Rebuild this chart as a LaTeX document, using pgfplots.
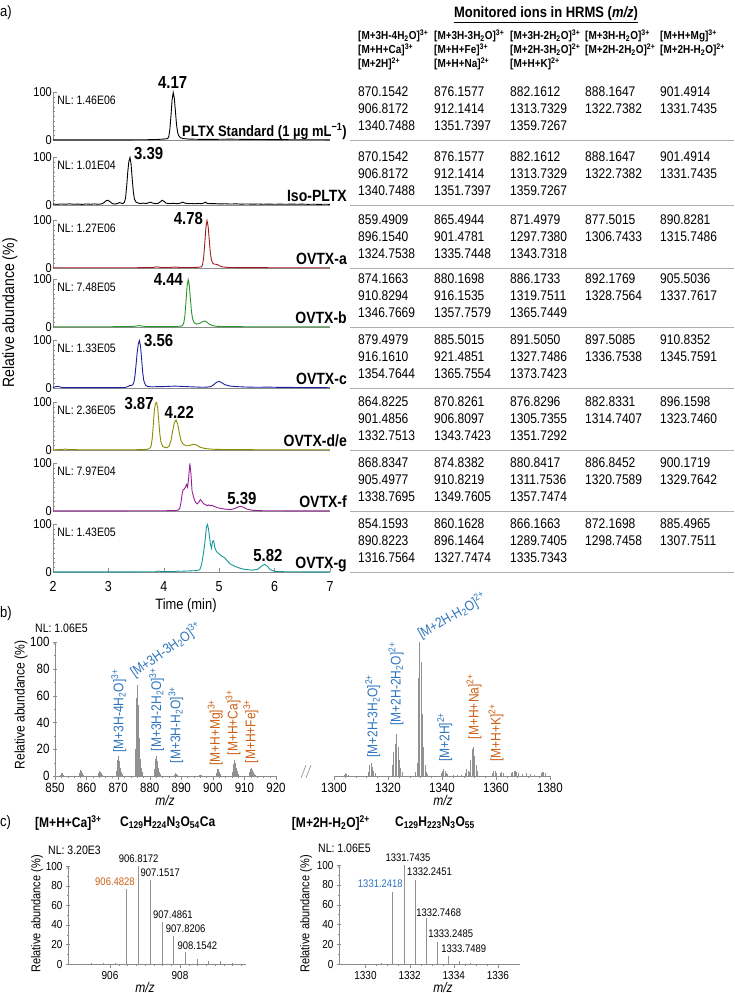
\documentclass[border=0pt]{standalone}
\usepackage{pgfplots}
\pgfplotsset{compat=1.18}
\usepackage{fontspec}
\setmainfont{Liberation Sans}[FakeStretch=0.86]
\definecolor{cdred}{RGB}{160,28,32}
\definecolor{cgreen}{RGB}{40,150,40}
\definecolor{cnavy}{RGB}{30,30,160}
\definecolor{colive}{RGB}{140,140,0}
\definecolor{cpurple}{RGB}{150,30,150}
\definecolor{cteal}{RGB}{20,150,150}
\definecolor{cblue}{RGB}{46,117,190}
\definecolor{corange}{RGB}{205,95,20}
\definecolor{cax}{RGB}{140,140,140}
\definecolor{cstick}{RGB}{145,145,145}
\newcommand\F[1]{\fontsize{#1}{#1}\selectfont}
\pgfplotsset{
  every axis/.append style={/pgf/number format/assume math mode=true,/pgf/number format/1000 sep={}},
  chrom/.style={anchor=south west, scale only axis, width=277pt, height=47.5pt,
    xmin=2, xmax=7, ymin=0, ymax=100,
    axis x line=bottom, axis y line=left, axis line style={-, draw=cax}, tick style={cax},
    ytick={0,100}, minor y tick num=9, xtick=\empty, tick align=inside,
    major tick length=4pt, minor tick length=2pt, clip=false,
    yticklabel style={font=\F{12.8}, inner sep=1pt}},
  spec/.style={anchor=south west, scale only axis, ymin=0, ymax=100,
    axis x line=bottom, axis line style={-, draw=cax}, tick style={cax},
    tick align=outside, major tick length=4pt, minor tick length=2pt, clip=false},
}
\newcommand\NL[1]{\node[anchor=west,inner sep=0pt,font=\F{12.2}] at (rel axis cs:0.015,0.83) {NL: #1};}
\newcommand\Nm[2][16.3]{\node[anchor=base east,inner sep=0pt,font=\F{#1}\bfseries] at (axis cs:7.307,8) {#2};}
\tikzset{pk/.style={inner sep=0pt, font=\F{17.4}\bfseries},
  th/.style={anchor=west, inner sep=0pt, font=\F{11.6}\bfseries},
  tb/.style={anchor=west, inner sep=0pt, font=\F{14}},
  lb/.style={inner sep=0.5pt, font=\F{14}, text=cblue},
  lo/.style={inner sep=0.5pt, font=\F{14}, text=corange},
  cl/.style={inner sep=0pt, font=\F{11}}}
\newcommand\trow[6]{\node[tb] at (358,-#1) {#2}; \node[tb] at (434,-#1) {#3}; \node[tb] at (510,-#1) {#4}; \node[tb] at (585,-#1) {#5}; \node[tb] at (660,-#1) {#6};}
\newcommand\trowc[4]{\node[tb] at (358,-#1) {#2}; \node[tb] at (434,-#1) {#3}; \node[tb] at (510,-#1) {#4};}
\newcommand\Sb[1]{\textsubscript{#1}}
\newcommand\Sp[1]{\textsuperscript{#1}}
\begin{document}
\begin{tikzpicture}[x=1pt,y=1pt]
\useasboundingbox (0,0) rectangle (734,-993);
% ---------------- panel labels
\node[anchor=west,inner sep=0pt,font=\F{15.1}] at (0,-13) {a)};
\node[anchor=west,inner sep=0pt,font=\F{15.1}] at (0,-614) {b)};
\node[anchor=west,inner sep=0pt,font=\F{15.1}] at (0,-823) {c)};
% ---------------- panel a chromatograms
\begin{axis}[chrom, at={(53pt,-140pt)}]
\addplot[black, line width=0.9pt, mark=none] coordinates {(2,0.4)(2.3,0.3)(2.6,0.4)(3.0,0.3)(3.4,0.4)(3.7,0.6)(3.9,1.2)(4.0,2)(4.04,2.5)(4.07,3)(4.09,7)(4.11,23)(4.13,52)(4.15,85)(4.17,100)(4.19,88)(4.21,60)(4.23,32)(4.25,16)(4.27,9)(4.30,5)(4.35,3)(4.45,2)(4.6,1.5)(4.8,1.2)(5.0,1.5)(5.2,1.8)(5.4,1.4)(5.6,1.2)(5.8,1.0)(6.0,0.8)(6.3,0.6)(6.6,0.5)(7,0.4)};
\NL{1.46E06}
\node[pk] at (axis cs:4.16,120) {4.17};
\Nm[15.1]{PLTX Standard (1 µg mL\textsuperscript{−1})}
\end{axis}
\begin{axis}[chrom, at={(53pt,-205pt)}]
\addplot[black, line width=0.9pt, mark=none] coordinates {(2,2)(2.08,1.4)(2.15,2.2)(2.22,1.6)(2.3,2.4)(2.38,1.5)(2.45,2)(2.52,1.3)(2.6,2.1)(2.68,1.6)(2.75,2.3)(2.82,1.5)(2.88,2.5)(2.92,5)(2.96,9)(2.99,10)(3.03,7)(3.07,3)(3.12,2)(3.16,3)(3.2,5)(3.23,4)(3.26,3)(3.29,6)(3.31,15)(3.33,40)(3.35,70)(3.37,92)(3.39,100)(3.41,85)(3.43,55)(3.45,28)(3.47,12)(3.5,6)(3.54,4)(3.58,3)(3.63,4)(3.68,3)(3.72,4.5)(3.76,6)(3.8,4)(3.85,3)(3.9,3.5)(3.94,7)(3.97,10)(4.0,8)(4.04,4)(4.1,3)(4.17,3.5)(4.24,2.8)(4.3,4)(4.34,6)(4.38,4)(4.44,3)(4.5,3.2)(4.56,2.6)(4.62,3.3)(4.68,2.8)(4.72,4)(4.75,6)(4.78,3.5)(4.85,2.8)(4.92,3)(5.0,2.2)(5.1,2.6)(5.2,2.0)(5.3,2.4)(5.4,1.8)(5.5,2.2)(5.6,1.7)(5.7,2.1)(5.8,1.6)(5.9,2)(6.0,1.5)(6.1,1.9)(6.2,1.5)(6.3,2.0)(6.4,1.6)(6.5,1.8)(6.6,1.4)(6.7,1.7)(6.8,1.3)(6.9,1.6)(7,1.4)};
\NL{1.01E04}
\node[pk,anchor=west] at (axis cs:3.46,109) {3.39};
\Nm{Iso-PLTX}
\end{axis}
\begin{axis}[chrom, at={(53pt,-268pt)}]
\addplot[cdred, line width=0.9pt, mark=none] coordinates {(2,0.5)(2.5,0.5)(3.0,0.6)(3.5,0.6)(3.8,1)(3.87,2.5)(3.95,1)(4.1,1)(4.2,2)(4.3,1)(4.5,1)(4.62,1.5)(4.68,2.5)(4.70,7)(4.72,23)(4.74,52)(4.76,85)(4.78,100)(4.80,88)(4.82,60)(4.84,32)(4.86,17)(4.88,11)(4.91,8)(4.94,8)(4.97,7)(5.0,5)(5.05,2.5)(5.15,1.2)(5.4,0.8)(6,0.6)(7,0.5)};
\NL{1.27E06}
\node[pk,anchor=east] at (axis cs:4.71,105) {4.78};
\Nm{OVTX-a}
\end{axis}
\begin{axis}[chrom, at={(53pt,-327pt)}]
\addplot[cgreen, line width=0.9pt, mark=none] coordinates {(2,0.5)(2.5,0.5)(3.0,0.6)(3.4,0.8)(3.5,2)(3.55,3)(3.6,2)(3.7,0.8)(4.0,0.7)(4.2,1)(4.32,2)(4.34,4)(4.36,8)(4.38,23)(4.40,52)(4.42,85)(4.44,100)(4.46,88)(4.48,60)(4.50,32)(4.52,17)(4.55,9)(4.59,6)(4.63,7)(4.67,9)(4.71,12)(4.74,12.5)(4.78,10)(4.82,6)(4.88,3)(4.95,1.5)(5.1,0.8)(5.5,0.6)(6,0.5)(7,0.5)};
\NL{7.48E05}
\node[pk,anchor=east] at (axis cs:4.35,101) {4.44};
\Nm{OVTX-b}
\end{axis}
\begin{axis}[chrom, at={(53pt,-388pt)}]
\addplot[cnavy, line width=0.9pt, mark=none] coordinates {(2,1)(2.04,2.5)(2.08,3.5)(2.12,2.5)(2.16,1)(2.3,0.7)(2.6,0.7)(3.0,0.8)(3.3,1)(3.35,3)(3.38,5)(3.41,5)(3.44,7)(3.46,12)(3.48,26)(3.50,50)(3.52,75)(3.54,93)(3.56,100)(3.58,88)(3.60,60)(3.62,32)(3.64,15)(3.67,6)(3.71,3)(3.8,2.5)(3.9,3)(4.0,3)(4.1,3.5)(4.2,4)(4.3,3.5)(4.4,3)(4.5,2.5)(4.6,2)(4.7,1.5)(4.8,2)(4.85,3)(4.9,7)(4.95,12)(5.0,14)(5.05,11)(5.1,7)(5.2,4)(5.3,3)(5.5,2)(5.7,1.5)(5.9,2)(6.0,1.5)(6.5,1)(7,0.6)};
\NL{1.33E05}
\node[pk,anchor=west] at (axis cs:3.64,99) {3.56};
\Nm{OVTX-c}
\end{axis}
\begin{axis}[chrom, at={(53pt,-450pt)}]
\addplot[colive, line width=0.9pt, mark=none] coordinates {(2,0.5)(2.15,0.8)(2.22,2)(2.28,1)(2.5,0.5)(3.0,0.5)(3.5,0.6)(3.65,1)(3.72,2)(3.75,4)(3.77,8)(3.79,23)(3.81,52)(3.83,85)(3.85,98)(3.87,100)(3.89,88)(3.91,60)(3.93,32)(3.95,16)(3.98,8)(4.02,5)(4.06,5)(4.1,9)(4.13,20)(4.16,40)(4.19,57)(4.22,63)(4.25,55)(4.28,36)(4.31,20)(4.35,12)(4.4,9)(4.45,9)(4.5,11)(4.55,12)(4.6,10)(4.65,6)(4.75,3)(4.9,1.5)(5.2,0.8)(6,0.5)(7,0.5)};
\NL{2.36E05}
\node[pk,anchor=east] at (axis cs:3.82,97) {3.87};
\node[pk] at (axis cs:4.28,79) {4.22};
\Nm{OVTX-d/e}
\end{axis}
\begin{axis}[chrom, at={(53pt,-511pt)}]
\addplot[cpurple, line width=0.9pt, mark=none] coordinates {(2,0.4)(3.0,0.4)(4.0,0.5)(4.2,1)(4.26,2)(4.29,6)(4.31,18)(4.33,35)(4.35,45)(4.37,46)(4.39,50)(4.41,56)(4.43,50)(4.45,72)(4.47,100)(4.49,78)(4.51,42)(4.54,28)(4.57,19)(4.60,15)(4.63,18)(4.66,24)(4.69,20)(4.72,15)(4.75,14)(4.78,11)(4.81,13)(4.84,11)(4.87,12)(4.9,10)(4.95,8)(5.0,6)(5.1,4)(5.2,3)(5.28,5)(5.34,8.5)(5.39,10)(5.44,7.5)(5.5,4)(5.6,1.5)(5.8,0.5)(7,0.3)};
\NL{7.97E04}
\node[pk] at (axis cs:5.41,27) {5.39};
\Nm{OVTX-f}
\end{axis}
\begin{axis}[chrom, at={(53pt,-572pt)}, xtick={2,3,4,5,6,7}, xticklabel style={font=\F{14.5}, inner sep=2pt, yshift=-7pt}]
\addplot[cteal, line width=0.9pt, mark=none] coordinates {(2,0.3)(3.0,0.3)(3.5,0.4)(3.85,0.6)(3.9,2)(3.95,1)(4.2,1)(4.25,2)(4.3,1.5)(4.5,2.5)(4.6,3)(4.65,5)(4.68,15)(4.71,35)(4.74,60)(4.77,95)(4.79,100)(4.81,88)(4.84,60)(4.86,50)(4.88,64)(4.90,66)(4.92,52)(4.95,43)(5.0,38)(5.05,33)(5.1,30)(5.15,23)(5.2,17)(5.3,11)(5.4,7)(5.5,5)(5.6,4)(5.7,6)(5.76,12)(5.82,16)(5.87,12)(5.92,5)(6.0,1.5)(6.2,0.5)(7,0.3)};
\NL{1.43E05}
\node[pk] at (axis cs:5.88,34) {5.82};
\Nm{OVTX-g}
\end{axis}
\node[font=\F{15}] at (186,-606) {Time (min)};
\node[rotate=90,font=\F{16.3}] at (10,-313) {Relative abundance (\%)};
% ---------------- table
\node[font=\F{15.1}\bfseries] at (546,-15) {\underline{Monitored ions in HRMS (\textit{m/z})}};
\node[th] at (358,-36) {[M+3H-4H\Sb{2}O]\Sp{3+}};
\node[th] at (358,-50) {[M+H+Ca]\Sp{3+}};
\node[th] at (358,-64) {[M+2H]\Sp{2+}};
\node[th] at (434,-36) {[M+3H-3H\Sb{2}O]\Sp{3+}};
\node[th] at (434,-50) {[M+H+Fe]\Sp{3+}};
\node[th] at (434,-64) {[M+H+Na]\Sp{2+}};
\node[th] at (510,-36) {[M+3H-2H\Sb{2}O]\Sp{3+}};
\node[th] at (510,-50) {[M+2H-3H\Sb{2}O]\Sp{2+}};
\node[th] at (510,-64) {[M+H+K]\Sp{2+}};
\node[th] at (585,-36) {[M+3H-H\Sb{2}O]\Sp{3+}};
\node[th] at (585,-50) {[M+2H-2H\Sb{2}O]\Sp{2+}};
\node[th] at (660,-36) {[M+H+Mg]\Sp{3+}};
\node[th] at (660,-50) {[M+2H-H\Sb{2}O]\Sp{2+}};
\trow{92}{870.1542}{876.1577}{882.1612}{888.1647}{901.4914}
\trow{109}{906.8172}{912.1414}{1313.7329}{1322.7382}{1331.7435}
\trowc{126}{1340.7488}{1351.7397}{1359.7267}
\trow{157}{870.1542}{876.1577}{882.1612}{888.1647}{901.4914}
\trow{174}{906.8172}{912.1414}{1313.7329}{1322.7382}{1331.7435}
\trowc{191}{1340.7488}{1351.7397}{1359.7267}
\trow{220}{859.4909}{865.4944}{871.4979}{877.5015}{890.8281}
\trow{237}{896.1540}{901.4781}{1297.7380}{1306.7433}{1315.7486}
\trowc{254}{1324.7538}{1335.7448}{1343.7318}
\trow{279}{874.1663}{880.1698}{886.1733}{892.1769}{905.5036}
\trow{296}{910.8294}{916.1535}{1319.7511}{1328.7564}{1337.7617}
\trowc{313}{1346.7669}{1357.7579}{1365.7449}
\trow{340}{879.4979}{885.5015}{891.5050}{897.5085}{910.8352}
\trow{357}{916.1610}{921.4851}{1327.7486}{1336.7538}{1345.7591}
\trowc{374}{1354.7644}{1365.7554}{1373.7423}
\trow{402}{864.8225}{870.8261}{876.8296}{882.8331}{896.1598}
\trow{419}{901.4856}{906.8097}{1305.7355}{1314.7407}{1323.7460}
\trowc{436}{1332.7513}{1343.7423}{1351.7292}
\trow{463}{868.8347}{874.8382}{880.8417}{886.8452}{900.1719}
\trow{480}{905.4977}{910.8219}{1311.7536}{1320.7589}{1329.7642}
\trowc{497}{1338.7695}{1349.7605}{1357.7474}
\trow{524}{854.1593}{860.1628}{866.1663}{872.1698}{885.4965}
\trow{541}{890.8223}{896.1464}{1289.7405}{1298.7458}{1307.7511}
\trowc{558}{1316.7564}{1327.7474}{1335.7343}
\foreach \yy in {140,205,268,327,388,450,511,572} {\draw[cax!70, line width=0.6pt] (350,-\yy) -- (734,-\yy);}
% ---------------- panel b
\begin{axis}[spec, at={(55pt,-776pt)}, width=221pt, height=134pt, xmin=850, xmax=920,
  axis y line=left, xtick={850,860,...,920}, minor x tick num=4, ytick={0,20,...,100}, minor y tick num=1,
  tick label style={font=\F{13.4}}]
\addplot[ycomb, draw=cstick, line width=0.9pt, mark=none] coordinates {
(851.7,1)(852.0,2.5)(852.3,2)(852.7,1)
(857.7,2)(858.0,4.5)(858.3,3.5)(858.7,2)(859.0,1)
(863.7,2)(864.0,4)(864.3,3)(864.7,2)(865.0,1)
(869.5,4)(869.8,12)(870.15,15)(870.5,11)(870.8,6)(871.2,3)(871.5,1.5)
(875.5,20)(875.82,58)(876.16,68)(876.5,53)(876.83,28)(877.16,13)(877.5,6)(877.8,3)
(881.5,5)(881.83,13)(882.16,15)(882.5,11)(882.83,6)(883.2,3)(883.5,1.5)
(887.8,1)(888.16,2)(888.5,1.5)(888.8,1)
(895.8,0.8)(896.2,1)(896.5,0.6)
(901.15,2)(901.5,5.5)(901.83,5)(902.16,3)(902.5,1.5)
(906.15,3)(906.48,9)(906.82,12)(907.15,10)(907.49,6)(907.82,3.5)(908.15,1.5)
(911.5,3)(911.81,5.5)(912.14,6)(912.5,4.5)(912.8,3)(913.1,1.5)(913.5,0.8)};
\node[lb,rotate=90,anchor=west] at (axis cs:870.2,17) {[M+3H-4H\Sb{2}O]\Sp{3+}};
\node[lb,rotate=35,anchor=base west] at (axis cs:875.0,73) {[M+3H-3H\Sb{2}O]\Sp{3+}};
\node[lb,rotate=90,anchor=west] at (axis cs:882.2,18) {[M+3H-2H\Sb{2}O]\Sp{3+}};
\node[lb,rotate=90,anchor=west] at (axis cs:888.3,9) {[M+3H-H\Sb{2}O]\Sp{3+}};
\node[lo,rotate=90,anchor=west] at (axis cs:900.8,7) {[M+H+Mg]\Sp{3+}};
\node[lo,rotate=90,anchor=west] at (axis cs:906.4,15) {[M+H+Ca]\Sp{3+}};
\node[lo,rotate=90,anchor=west] at (axis cs:912.0,9) {[M+H+Fe]\Sp{3+}};
\end{axis}
\begin{axis}[spec, at={(334pt,-776pt)}, width=216pt, height=134pt, xmin=1300, xmax=1380,
  axis y line=none, xtick={1300,1320,...,1380}, minor x tick num=4,
  tick label style={font=\F{13.4}}]
\addplot[ycomb, draw=cstick, line width=0.9pt, mark=none] coordinates {
(1303.7,1)(1304.2,2)(1304.7,1.5)(1305.2,1)
(1312.7,3)(1313.2,8)(1313.7,10)(1314.2,7)(1314.7,4)(1315.2,2)
(1321.7,8)(1322.2,18)(1322.7,24)(1323.2,31)(1323.7,22)(1324.2,12)(1324.7,6)(1325.2,3)
(1330.24,3)(1330.74,10)(1331.24,73)(1331.74,100)(1332.25,85)(1332.75,46)(1333.25,22)(1333.75,8)(1334.25,3)(1334.75,1.5)
(1339.7,2)(1340.2,4)(1340.7,5)(1341.2,4)(1341.7,2.5)(1342.2,1.5)
(1344.2,1)(1345.7,1)(1347.2,1)
(1348.7,2)(1349.2,5)(1349.7,4)(1350.2,3)(1350.7,12)(1351.2,20)(1351.7,22)(1352.2,15)(1352.7,8)(1353.2,4)
(1358.7,2)(1359.2,4)(1359.7,3.5)(1360.2,2)
(1361.7,2)(1362.2,3)(1362.7,2)
(1365.7,2)(1366.2,3)(1366.7,4)(1367.2,4)(1367.7,3)(1368.2,2)
(1369.7,1.5)(1371.2,2)(1372.7,1.5)(1374.2,1)
(1376.7,2)(1377.2,3)(1377.7,3)(1378.2,2)};
\node[lb,rotate=90,anchor=west] at (axis cs:1314.4,13) {[M+2H-3H\Sb{2}O]\Sp{2+}};
\node[lb,rotate=90,anchor=west] at (axis cs:1323.0,37) {[M+2H-2H\Sb{2}O]\Sp{2+}};
\node[lb,rotate=30,anchor=base west] at (axis cs:1332.1,102) {[M+2H-H\Sb{2}O]\Sp{2+}};
\node[lb,rotate=90,anchor=west] at (axis cs:1341.0,10) {[M+2H]\Sp{2+}};
\node[lo,rotate=90,anchor=west] at (axis cs:1351.9,27) {[M+H+Na]\Sp{2+}};
\node[lo,rotate=90,anchor=west] at (axis cs:1360.0,10) {[M+H+K]\Sp{2+}};
\end{axis}
\draw[cax, line width=0.6pt] (301,-778) -- (306,-765);
\draw[cax, line width=0.6pt] (306,-778) -- (311,-765);
\node[anchor=west,inner sep=0pt,font=\F{12.2}] at (35,-628) {NL: 1.06E5};
\node[rotate=90,font=\F{14}] at (21,-705) {Relative abundance (\%)};
\node[font=\F{14}\itshape] at (165,-800) {m/z};
\node[font=\F{14}\itshape] at (443,-800) {m/z};
% ---------------- panel c
\node[anchor=west,inner sep=0pt,font=\F{14}\bfseries] at (35,-823) {[M+H+Ca]\Sp{3+}};
\node[anchor=west,inner sep=0pt,font=\F{14}\bfseries] at (120,-823) {C\Sb{129}H\Sb{224}N\Sb{3}O\Sb{54}Ca};
\node[anchor=east,inner sep=0pt,font=\F{14}\bfseries] at (370,-823) {[M+2H-H\Sb{2}O]\Sp{2+}};
\node[anchor=west,inner sep=0pt,font=\F{14}\bfseries] at (395,-823) {C\Sb{129}H\Sb{223}N\Sb{3}O\Sb{55}};
\begin{axis}[spec, at={(68pt,-964pt)}, width=178.5pt, height=98pt, xmin=904.8, xmax=909.9,
  axis y line=left, xtick={906,908,910}, minor x tick num=7, ytick={0,20,...,100}, minor y tick num=1,
  tick label style={font=\F{11.6}}]
\addplot[ycomb, draw=cstick, line width=0.9pt, mark=none] coordinates {
(905.15,0.5)(905.48,1)(905.82,0.8)(906.15,1)(906.4828,77)(906.8172,100)(907.1517,86)(907.4861,43)(907.8206,29)(908.1542,12)(908.49,5)(908.82,3)(909.15,3)(909.5,1)(909.8,0.5)};
\node[cl,anchor=south] at (axis cs:906.8172,103) {906.8172};
\node[cl,anchor=south west,xshift=-10pt] at (axis cs:907.1517,89) {907.1517};
\node[cl,anchor=south west,xshift=-9pt] at (axis cs:907.4861,46) {907.4861};
\node[cl,anchor=south west,xshift=-8pt] at (axis cs:907.8206,32) {907.8206};
\node[cl,anchor=south west,xshift=-8pt] at (axis cs:908.1542,15) {908.1542};
\node[cl,anchor=south east,xshift=8pt,text=corange] at (axis cs:906.4828,80) {906.4828};
\end{axis}
\node[anchor=west,inner sep=0pt,font=\F{12.2}] at (48,-850) {NL: 3.20E3};
\node[rotate=90,font=\F{12.8}] at (37,-914) {Relative abundance (\%)};
\node[font=\F{14}\itshape] at (145,-987) {m/z};
\begin{axis}[spec, at={(339pt,-964pt)}, width=181pt, height=99pt, xmin=1328.8, xmax=1337,
  axis y line=left, xtick={1330,1332,1334,1336}, minor x tick num=3, ytick={0,20,...,100}, minor y tick num=1,
  tick label style={font=\F{11.6}}]
\addplot[ycomb, draw=cstick, line width=0.9pt, mark=none] coordinates {
(1329.24,0.5)(1330.74,1)(1331.2418,73)(1331.7435,100)(1332.2451,85)(1332.7468,46)(1333.2485,22)(1333.7489,8)(1334.25,3)(1334.75,1)(1335.25,0.5)};
\node[cl,anchor=south,xshift=4pt] at (axis cs:1331.7435,103) {1331.7435};
\node[cl,anchor=south west,xshift=-8pt] at (axis cs:1332.2451,89) {1332.2451};
\node[cl,anchor=south west,xshift=-10pt] at (axis cs:1332.7468,48) {1332.7468};
\node[cl,anchor=south west,xshift=-9pt] at (axis cs:1333.2485,26) {1333.2485};
\node[cl,anchor=south west,xshift=-7pt] at (axis cs:1333.7489,11) {1333.7489};
\node[cl,anchor=south east,xshift=10pt,text=cblue] at (axis cs:1331.2418,77) {1331.2418};
\end{axis}
\node[anchor=west,inner sep=0pt,font=\F{12.2}] at (318,-848) {NL: 1.06E5};
\node[rotate=90,font=\F{12.8}] at (306,-914) {Relative abundance (\%)};
\node[font=\F{14}\itshape] at (443,-987) {m/z};
\end{tikzpicture}
\end{document}
